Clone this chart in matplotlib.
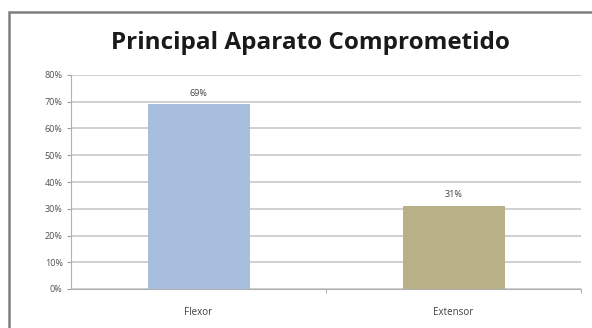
import matplotlib.pyplot as plt
from matplotlib.patches import Rectangle
from matplotlib.ticker import FuncFormatter
import numpy as np

categorias = ["Flexor", "Extensor"]
porcentajes = [69, 31]
colores = ["#A7BFDD", "#B8B087"]
titulo = "Principal Aparato Comprometido"

fig = plt.figure(figsize=(5.92, 3.28), dpi=100)
fig.patch.set_facecolor("white")

# marco gris de la figura
fig.add_artist(Rectangle((9 / 592, -0.1), 1.2, 1 - 12 / 328 + 0.1,
                         transform=fig.transFigure, fill=False,
                         edgecolor="#7f7f7f", linewidth=1.8))

ax = fig.add_axes([71 / 592, 39 / 328, 510 / 592, 214 / 328])
x = np.arange(len(categorias))
ax.bar(x, porcentajes, width=0.4, color=colores, zorder=3)

for xi, v in zip(x, porcentajes):
    ax.text(xi, v + 2.5, f"{v}%", ha="center", va="bottom",
            fontsize=6.5, color="#404040", family="Open Sans")

ax.set_xlim(-0.5, len(categorias) - 0.5)
ax.set_ylim(0, 80)
ax.set_yticks(np.arange(0, 81, 10))
ax.yaxis.set_major_formatter(FuncFormatter(lambda v, p: f"{v:.0f}%"))
ax.set_xticks(x)
ax.set_xticklabels(categorias)
ax.set_xticks([0.5, 1.5], minor=True)
ax.tick_params(axis="x", which="major", length=0, pad=13,
               labelsize=7, labelcolor="#404040")
ax.tick_params(axis="x", which="minor", length=3, color="#a0a0a0")
ax.tick_params(axis="y", length=3, color="#a0a0a0", pad=3,
               labelsize=6.5, labelcolor="#505050")
for lbl in ax.get_xticklabels() + ax.get_yticklabels():
    lbl.set_family("Open Sans")

ax.grid(axis="y", color="#c8c8c8", linewidth=1.2, zorder=0)
for s in ["top", "right"]:
    ax.spines[s].set_visible(False)
ax.spines["left"].set_color("#b0b0b0")
ax.spines["bottom"].set_color("#b0b0b0")

fig.text(310 / 592, 1 - 49 / 328, titulo, ha="center", va="baseline",
         fontsize=17.5, fontweight="bold", family="Open Sans", color="#1a1a1a")

fig.savefig("out.png", dpi=100)
